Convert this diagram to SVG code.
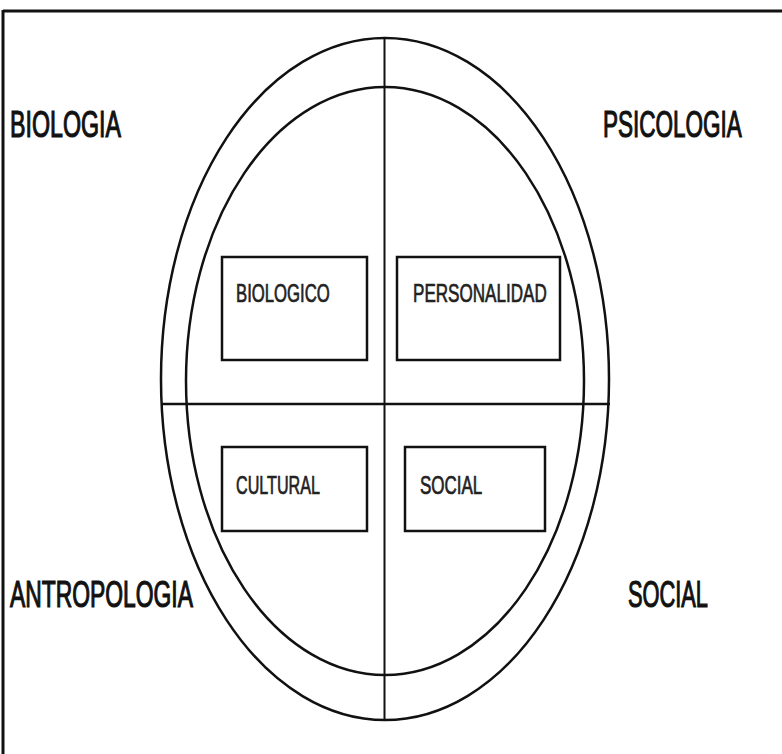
<svg xmlns="http://www.w3.org/2000/svg" width="782" height="754" viewBox="0 0 782 754">
<style>
.line{stroke:#111;fill:none}
.big{font-family:"Liberation Sans",Arial,sans-serif;font-size:37px;fill:#111;stroke:#111;stroke-width:1.2}
.small{font-family:"Liberation Sans",Arial,sans-serif;font-size:25px;fill:#222;stroke:#222;stroke-width:0.7}
.box{fill:none;stroke:#111;stroke-width:2.5}
</style>
<rect width="782" height="754" fill="#fff"/>
<g id="frame">
<line class="line" x1="3" y1="11" x2="782" y2="11" stroke-width="3"/>
<line class="line" x1="3" y1="10" x2="3" y2="754" stroke-width="3"/>
</g>
<g id="connectors">
<ellipse class="line" cx="385" cy="379" rx="224" ry="341" stroke-width="2.5"/>
<ellipse class="line" cx="385" cy="381" rx="199" ry="294" stroke-width="2.5"/>
<line class="line" x1="384.5" y1="37" x2="384.5" y2="721" stroke-width="2"/>
<line class="line" x1="161" y1="404" x2="610" y2="404" stroke-width="2.5"/>
</g>
<g id="label-biologia" transform="translate(10,137) scale(0.62,1)"><text class="big" x="0" y="0" textLength="179" lengthAdjust="spacingAndGlyphs">BIOLOGIA</text></g>
<g id="label-psicologia" transform="translate(603,137) scale(0.62,1)"><text class="big" x="0" y="0" textLength="224" lengthAdjust="spacingAndGlyphs">PSICOLOGIA</text></g>
<g id="label-antropologia" transform="translate(10,607) scale(0.62,1)"><text class="big" x="0" y="0" textLength="295" lengthAdjust="spacingAndGlyphs">ANTROPOLOGIA</text></g>
<g id="label-social" transform="translate(628,607) scale(0.62,1)"><text class="big" x="0" y="0" textLength="129" lengthAdjust="spacingAndGlyphs">SOCIAL</text></g>
<g id="node-biologico">
<rect class="box" x="222" y="257" width="145" height="103"/>
<g transform="translate(236,302) scale(0.7,1)"><text class="small" x="0" y="0" textLength="134" lengthAdjust="spacingAndGlyphs">BIOLOGICO</text></g>
</g>
<g id="node-personalidad">
<rect class="box" x="397" y="257" width="163" height="103"/>
<g transform="translate(413,302) scale(0.7,1)"><text class="small" x="0" y="0" textLength="191" lengthAdjust="spacingAndGlyphs">PERSONALIDAD</text></g>
</g>
<g id="node-cultural">
<rect class="box" x="222" y="447" width="145" height="84"/>
<g transform="translate(236,494) scale(0.7,1)"><text class="small" x="0" y="0" textLength="120" lengthAdjust="spacingAndGlyphs">CULTURAL</text></g>
</g>
<g id="node-social">
<rect class="box" x="405" y="447" width="140" height="84"/>
<g transform="translate(420,494) scale(0.7,1)"><text class="small" x="0" y="0" textLength="89" lengthAdjust="spacingAndGlyphs">SOCIAL</text></g>
</g>
</svg>
